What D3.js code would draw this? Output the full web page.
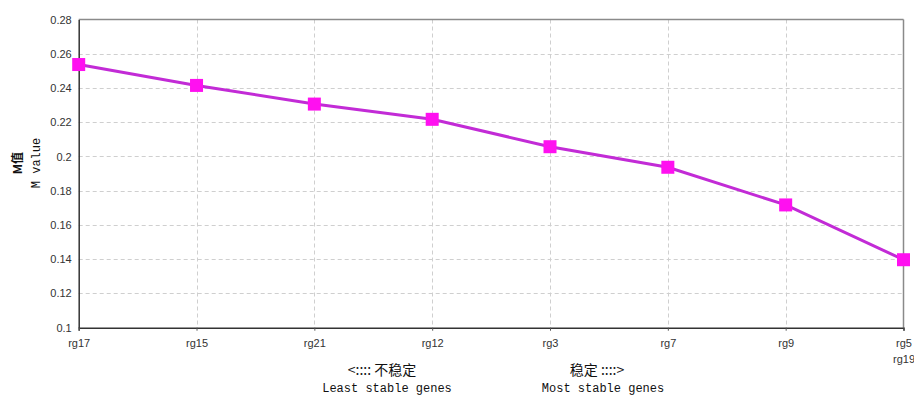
<!DOCTYPE html>
<html>
<head>
<meta charset="utf-8">
<script src="https://cdn.jsdelivr.net/npm/d3@7"></script>
<style>
  html, body { margin: 0; padding: 0; background: #fff; }
  svg { display: block; }
</style>
</head>
<body>
<svg id="chart" width="914" height="396"></svg>
<script>
const categories = ["rg17", "rg15", "rg21", "rg12", "rg3", "rg7", "rg9", "rg5\nrg19"];
const mValues = [0.2537, 0.2415, 0.2306, 0.2217, 0.2057, 0.1937, 0.1717, 0.1397];
const yTicks = [0.1, 0.12, 0.14, 0.16, 0.18, 0.2, 0.22, 0.24, 0.26, 0.28];

const svg = d3.select("#chart");
const m = { left: 78.7, right: 903.5, top: 19.5, bottom: 327.7 };

const x = d3.scalePoint().domain(categories).range([m.left, m.right]);
const y = d3.scaleLinear().domain([0.1, 0.28]).range([m.bottom, m.top]);

// grid
const grid = svg.append("g").attr("stroke", "#cfcfcf").attr("stroke-width", 1).attr("stroke-dasharray", "4,3");
grid.selectAll(".hy").data(yTicks.slice(1, -1)).join("line")
  .attr("x1", m.left).attr("x2", m.right)
  .attr("y1", d => Math.round(y(d)) + 0.5).attr("y2", d => Math.round(y(d)) + 0.5);
grid.selectAll(".vx").data(categories.slice(1, -1)).join("line")
  .attr("x1", d => Math.round(x(d)) + 0.5).attr("x2", d => Math.round(x(d)) + 0.5)
  .attr("y1", m.top).attr("y2", m.bottom);

// frame: top/right grey, left/bottom dark
svg.append("line").attr("x1", m.left).attr("x2", m.right).attr("y1", m.top).attr("y2", m.top)
  .attr("stroke", "#8a8a8a").attr("stroke-width", 1.5);
svg.append("line").attr("x1", m.right).attr("x2", m.right).attr("y1", m.top).attr("y2", m.bottom)
  .attr("stroke", "#8a8a8a").attr("stroke-width", 1.5);

// y axis
const yAxis = svg.append("g").attr("transform", `translate(${m.left},0)`)
  .call(d3.axisLeft(y).tickValues(yTicks).tickSize(0).tickPadding(7).tickFormat(d3.format("~g")));
yAxis.select(".domain").attr("stroke", "#333").attr("stroke-width", 1.5);
yAxis.selectAll("text").attr("font-family", "Liberation Sans, Arial, sans-serif").attr("font-size", 11).attr("fill", "#333");

// x axis
const xAxis = svg.append("g").attr("transform", `translate(0,${m.bottom})`)
  .call(d3.axisBottom(x).tickSize(3).tickPadding(9).tickFormat(""));
xAxis.select(".domain").attr("stroke", "#333").attr("stroke-width", 1.5);
xAxis.selectAll(".tick line").attr("stroke", "#555");
xAxis.selectAll(".tick").each(function(d) {
  const lines = d.split("\n");
  const t = d3.select(this).select("text")
    .attr("font-family", "Liberation Sans, Arial, sans-serif").attr("font-size", 11).attr("fill", "#333")
    .attr("dy", null).attr("y", 19);
  lines.forEach((s, i) => t.append("tspan").attr("x", 0).attr("dy", i === 0 ? 0 : 16).text(s));
});

// y label
const yl = svg.append("text").attr("transform", "translate(0,163) rotate(-90)")
  .attr("text-anchor", "middle").attr("fill", "#111");
yl.append("tspan").attr("x", 0).attr("y", 22).attr("font-size", 12).attr("font-family", "Noto Sans CJK SC, sans-serif").attr("font-weight", "bold").text("M值");
yl.append("tspan").attr("x", 0).attr("y", 40).attr("font-size", 12).attr("font-family", "Liberation Mono, DejaVu Sans Mono, monospace").text("M value");

// bottom annotations
const ann = [
  { t: "<:::: 不稳定", cx: 382, cy: 375, f: "Noto Sans CJK SC, sans-serif", s: 14 },
  { t: "稳定 ::::>", cx: 597, cy: 375, f: "Noto Sans CJK SC, sans-serif", s: 14 },
  { t: "Least stable genes", cx: 387, cy: 392, f: "Liberation Mono, DejaVu Sans Mono, monospace", s: 12 },
  { t: "Most stable genes", cx: 603, cy: 392, f: "Liberation Mono, DejaVu Sans Mono, monospace", s: 12 }
];
svg.selectAll(".ann").data(ann).join("text")
  .attr("x", d => d.cx).attr("y", d => d.cy).attr("text-anchor", "middle")
  .attr("font-family", d => d.f).attr("font-size", d => d.s).attr("fill", "#111").text(d => d.t);

// line
const data = categories.map((c, i) => ({ c, v: mValues[i] }));
svg.append("path").datum(data)
  .attr("fill", "none").attr("stroke", "#c22bd6").attr("stroke-width", 3)
  .attr("d", d3.line().x(d => x(d.c)).y(d => y(d.v)));

// markers
const ms = 13;
svg.selectAll(".mk").data(data).join("rect")
  .attr("x", d => x(d.c) - ms / 2).attr("y", d => y(d.v) - ms / 2)
  .attr("width", ms).attr("height", ms).attr("fill", "#ff10f0");
</script>
</body>
</html>
